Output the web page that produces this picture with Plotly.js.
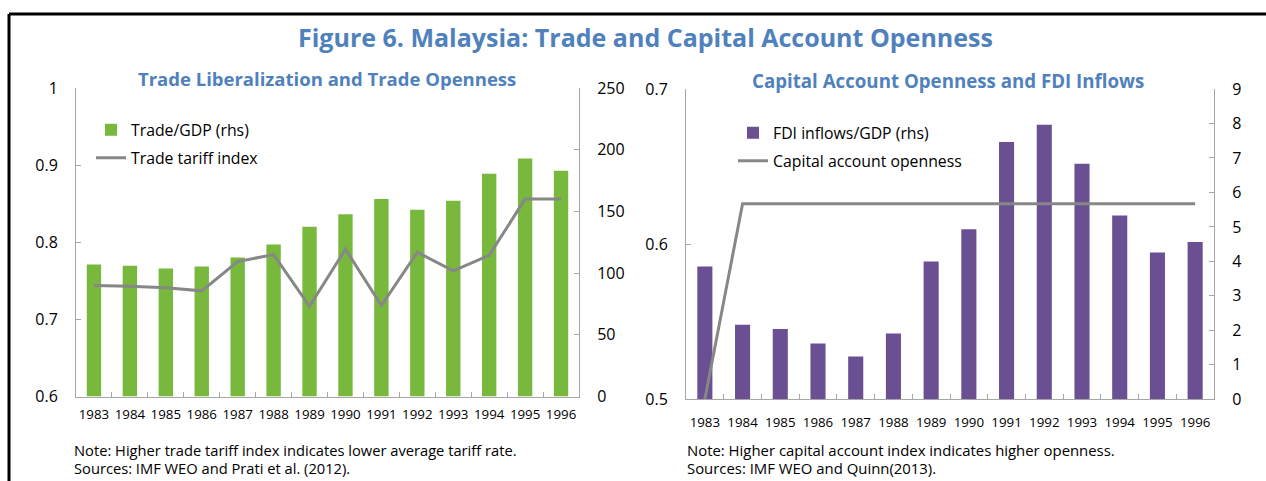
<!DOCTYPE html>
<html><head><meta charset="utf-8">
<script src="https://cdn.plot.ly/plotly-3.0.1.min.js"></script>
<style>html,body{margin:0;padding:0;background:#fff}#chart{width:1266px;height:481px}</style>
</head><body><div id="chart"></div>
<script>
// ---- data ----
const years = ['1983','1984','1985','1986','1987','1988','1989','1990','1991','1992','1993','1994','1995','1996'];
const tradeGDP = [107.0,105.9,103.8,105.4,112.7,123.1,137.5,147.6,160.1,151.4,158.7,180.6,192.8,183.0];
const tariffIndex = [0.744,0.743,0.741,0.737,0.775,0.784,0.717,0.791,0.718,0.787,0.763,0.783,0.856,0.856];
const fdiGDP = [3.85,2.16,2.04,1.62,1.24,1.91,4.00,4.93,7.46,7.96,6.83,5.33,4.26,4.56];
const capOpenness = [0.5,0.626,0.626,0.626,0.626,0.626,0.626,0.626,0.626,0.626,0.626,0.626,0.626,0.626];

const W = 1266, H = 481;
const fx = p => p / W;
const fy = p => 1 - p / H;
const FONT = 'Open Sans, Noto Sans, sans-serif';
const BLUE = '#4F81BD';
const AX = '#A6A6A6';
const GREEN = '#77B83D';
const PURPLE = '#6A5093';
const GREY = '#878787';

const traces = [
  {type:'bar', x:years, y:tradeGDP, name:'Trade/GDP (rhs)', xaxis:'x', yaxis:'y',
   marker:{color:GREEN}, legend:'legend', hoverinfo:'skip'},
  {type:'scatter', mode:'lines', x:years, y:tariffIndex, name:'Trade tariff index', xaxis:'x', yaxis:'y2',
   line:{color:GREY, width:3}, legend:'legend2', hoverinfo:'skip'},
  {type:'bar', x:years, y:fdiGDP, name:'FDI inflows/GDP (rhs)', xaxis:'x2', yaxis:'y3',
   marker:{color:PURPLE}, legend:'legend3', hoverinfo:'skip'},
  {type:'scatter', mode:'lines', x:years, y:capOpenness, name:'Capital account openness', xaxis:'x2', yaxis:'y4',
   line:{color:GREY, width:3}, legend:'legend4', hoverinfo:'skip', cliponaxis:false}
];

const xBase = {type:'category', showline:true, linecolor:AX, linewidth:1, ticks:'inside', tickson:'boundaries',
  ticklen:5, tickcolor:AX, tickangle:0, tickfont:{family:FONT, size:13.3, color:'#000'}, showgrid:false, zeroline:false, fixedrange:true};
const yBase = {showline:true, linecolor:AX, linewidth:1, ticks:'inside', ticklen:5, tickcolor:AX,
  tickfont:{family:FONT, size:16, color:'#000'}, showgrid:false, zeroline:false, fixedrange:true, ticklabelstandoff:14};

const legBase = {xanchor:'left', yanchor:'middle', bgcolor:'rgba(0,0,0,0)', borderwidth:0,
  font:{family:FONT, size:15.8, color:'#000'}};

const layout = {
  width:W, height:H, margin:{l:0,r:0,t:0,b:0}, paper_bgcolor:'#fff', plot_bgcolor:'rgba(0,0,0,0)',
  font:{family:FONT}, showlegend:true, bargap:0.6,
  xaxis: Object.assign({}, xBase, {domain:[fx(76), fx(579)], anchor:'y', ticklabelstandoff:6}),
  yaxis: Object.assign({}, yBase, {domain:[fy(396.5), fy(88)], anchor:'x', side:'right', range:[0,250], dtick:50}),
  yaxis2: Object.assign({}, yBase, {overlaying:'y', anchor:'x', side:'left', range:[0.6,1.0], dtick:0.1}),
  xaxis2: Object.assign({}, xBase, {domain:[fx(686), fx(1214)], anchor:'y3', ticklabelstandoff:11}),
  yaxis3: Object.assign({}, yBase, {domain:[fy(399.3), fy(89)], anchor:'x2', side:'right', range:[0,9], dtick:1}),
  yaxis4: Object.assign({}, yBase, {overlaying:'y3', anchor:'x2', side:'left', range:[0.5,0.7], dtick:0.1}),
  legend: Object.assign({}, legBase, {x:fx(91), y:fy(130)}),
  legend2: Object.assign({}, legBase, {x:fx(91), y:fy(158)}),
  legend3: Object.assign({}, legBase, {x:fx(733), y:fy(133)}),
  legend4: Object.assign({}, legBase, {x:fx(733), y:fy(161)}),
  annotations: [
    {text:'<b>Figure 6. Malaysia: Trade and Capital Account Openness</b>', xref:'paper', yref:'paper',
     x:fx(645), y:fy(37), xanchor:'center', yanchor:'middle', showarrow:false, font:{family:FONT, size:25, color:BLUE}},
    {text:'<b>Trade Liberalization and Trade Openness</b>', xref:'paper', yref:'paper',
     x:fx(327), y:fy(78), xanchor:'center', yanchor:'middle', showarrow:false, font:{family:FONT, size:18.5, color:BLUE}},
    {text:'<b>Capital Account Openness and FDI Inflows</b>', xref:'paper', yref:'paper',
     x:fx(948), y:fy(80), xanchor:'center', yanchor:'middle', showarrow:false, font:{family:FONT, size:18.7, color:BLUE}},
    {text:'Note: Higher trade tariff index indicates lower average tariff rate.', xref:'paper', yref:'paper',
     x:fx(72), y:fy(450), xanchor:'left', yanchor:'middle', showarrow:false, font:{family:FONT, size:14.7, color:'#000'}},
    {text:'Sources: IMF WEO and Prati et al. (2012).', xref:'paper', yref:'paper',
     x:fx(72), y:fy(468), xanchor:'left', yanchor:'middle', showarrow:false, font:{family:FONT, size:14.7, color:'#000'}},
    {text:'Note: Higher capital account index indicates higher openness.', xref:'paper', yref:'paper',
     x:fx(685), y:fy(450), xanchor:'left', yanchor:'middle', showarrow:false, font:{family:FONT, size:14.9, color:'#000'}},
    {text:'Sources: IMF WEO and Quinn(2013).', xref:'paper', yref:'paper',
     x:fx(685), y:fy(468), xanchor:'left', yanchor:'middle', showarrow:false, font:{family:FONT, size:14.9, color:'#000'}}
  ],
  shapes: [
    {type:'line', xref:'paper', yref:'paper', x0:fx(9), x1:fx(9), y0:0, y1:fy(14), line:{color:'#000', width:3}},
    {type:'line', xref:'paper', yref:'paper', x0:fx(9), x1:1, y0:fy(14), y1:fy(14), line:{color:'#000', width:3}}
  ]
};

Plotly.newPlot('chart', traces, layout, {staticPlot:true, displayModeBar:false});
</script>
</body></html>
